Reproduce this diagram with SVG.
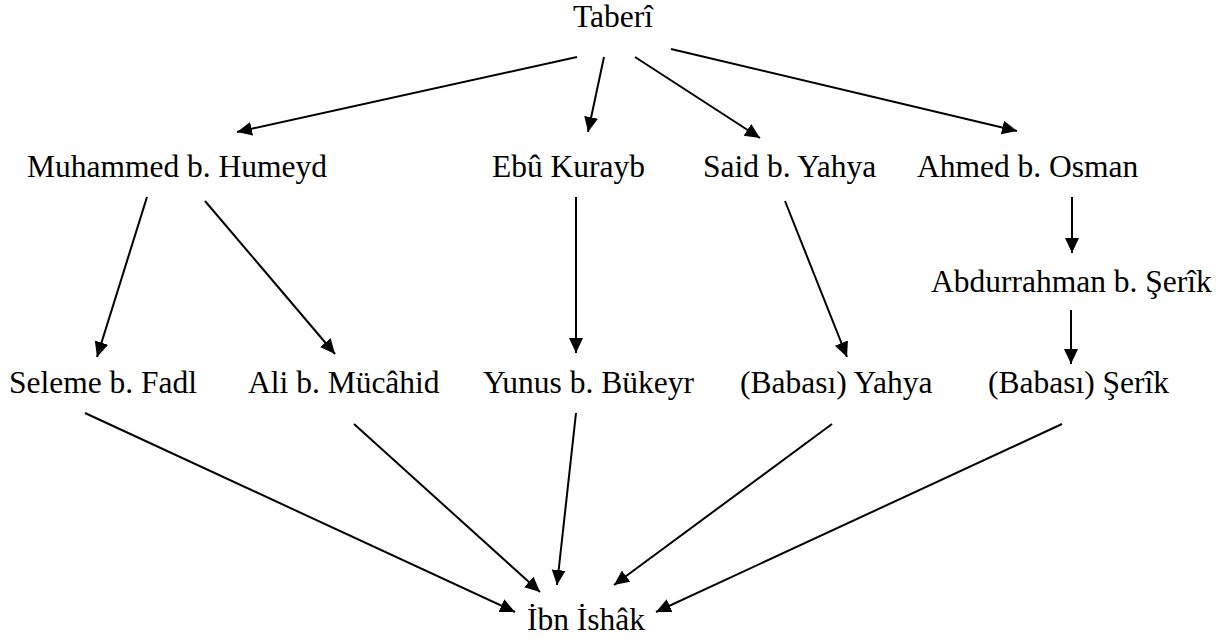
<svg xmlns="http://www.w3.org/2000/svg" width="1232" height="641" viewBox="0 0 1232 641">
<style>
text { font-family: "Liberation Serif", "Times New Roman", serif; font-size: 31.5px; fill: #000; }
.edge { stroke: #000; stroke-width: 2; fill: none; marker-end: url(#ah); }
</style>
<defs>
<marker id="ah" markerUnits="userSpaceOnUse" markerWidth="16" markerHeight="15" refX="15" refY="7" orient="auto">
<path d="M0,0 L15,7 L0,14 z" fill="#000"/>
</marker>
</defs>
<rect width="1232" height="641" fill="#fff"/>
<g id="n-taberi"><text x="573" y="27">Taberî</text></g>
<g id="n-muhammed"><text x="27" y="177">Muhammed b. Humeyd</text></g>
<g id="n-ebu"><text x="492" y="177">Ebû Kurayb</text></g>
<g id="n-said"><text x="703" y="177">Said b. Yahya</text></g>
<g id="n-ahmed"><text x="917" y="177">Ahmed b. Osman</text></g>
<g id="n-abdurrahman"><text x="931" y="292">Abdurrahman b. Şerîk</text></g>
<g id="n-seleme"><text x="9" y="393">Seleme b. Fadl</text></g>
<g id="n-ali"><text x="248" y="393">Ali b. Mücâhid</text></g>
<g id="n-yunus"><text x="483" y="393">Yunus b. Bükeyr</text></g>
<g id="n-babasi-yahya"><text x="740" y="393">(Babası) Yahya</text></g>
<g id="n-babasi-serik"><text x="988" y="393">(Babası) Şerîk</text></g>
<g id="n-ibn-ishak"><text x="527" y="630">İbn İshâk</text></g>
<g id="connectors">
<line class="edge" x1="577" y1="57" x2="237" y2="132"/>
<line class="edge" x1="604" y1="57" x2="588" y2="132"/>
<line class="edge" x1="635" y1="57" x2="760" y2="138"/>
<line class="edge" x1="671" y1="49" x2="1017" y2="131"/>
<line class="edge" x1="147" y1="197" x2="97" y2="357"/>
<line class="edge" x1="205" y1="201" x2="335" y2="354"/>
<line class="edge" x1="576" y1="197" x2="576" y2="353"/>
<line class="edge" x1="785" y1="201" x2="847" y2="357"/>
<line class="edge" x1="1072" y1="197" x2="1072" y2="253"/>
<line class="edge" x1="1071" y1="310" x2="1071" y2="364"/>
<line class="edge" x1="85" y1="413" x2="515" y2="612"/>
<line class="edge" x1="354" y1="424" x2="540" y2="592"/>
<line class="edge" x1="576" y1="413" x2="557" y2="585"/>
<line class="edge" x1="832" y1="424" x2="614" y2="585"/>
<line class="edge" x1="1062" y1="424" x2="656" y2="612"/>
</g>
</svg>
